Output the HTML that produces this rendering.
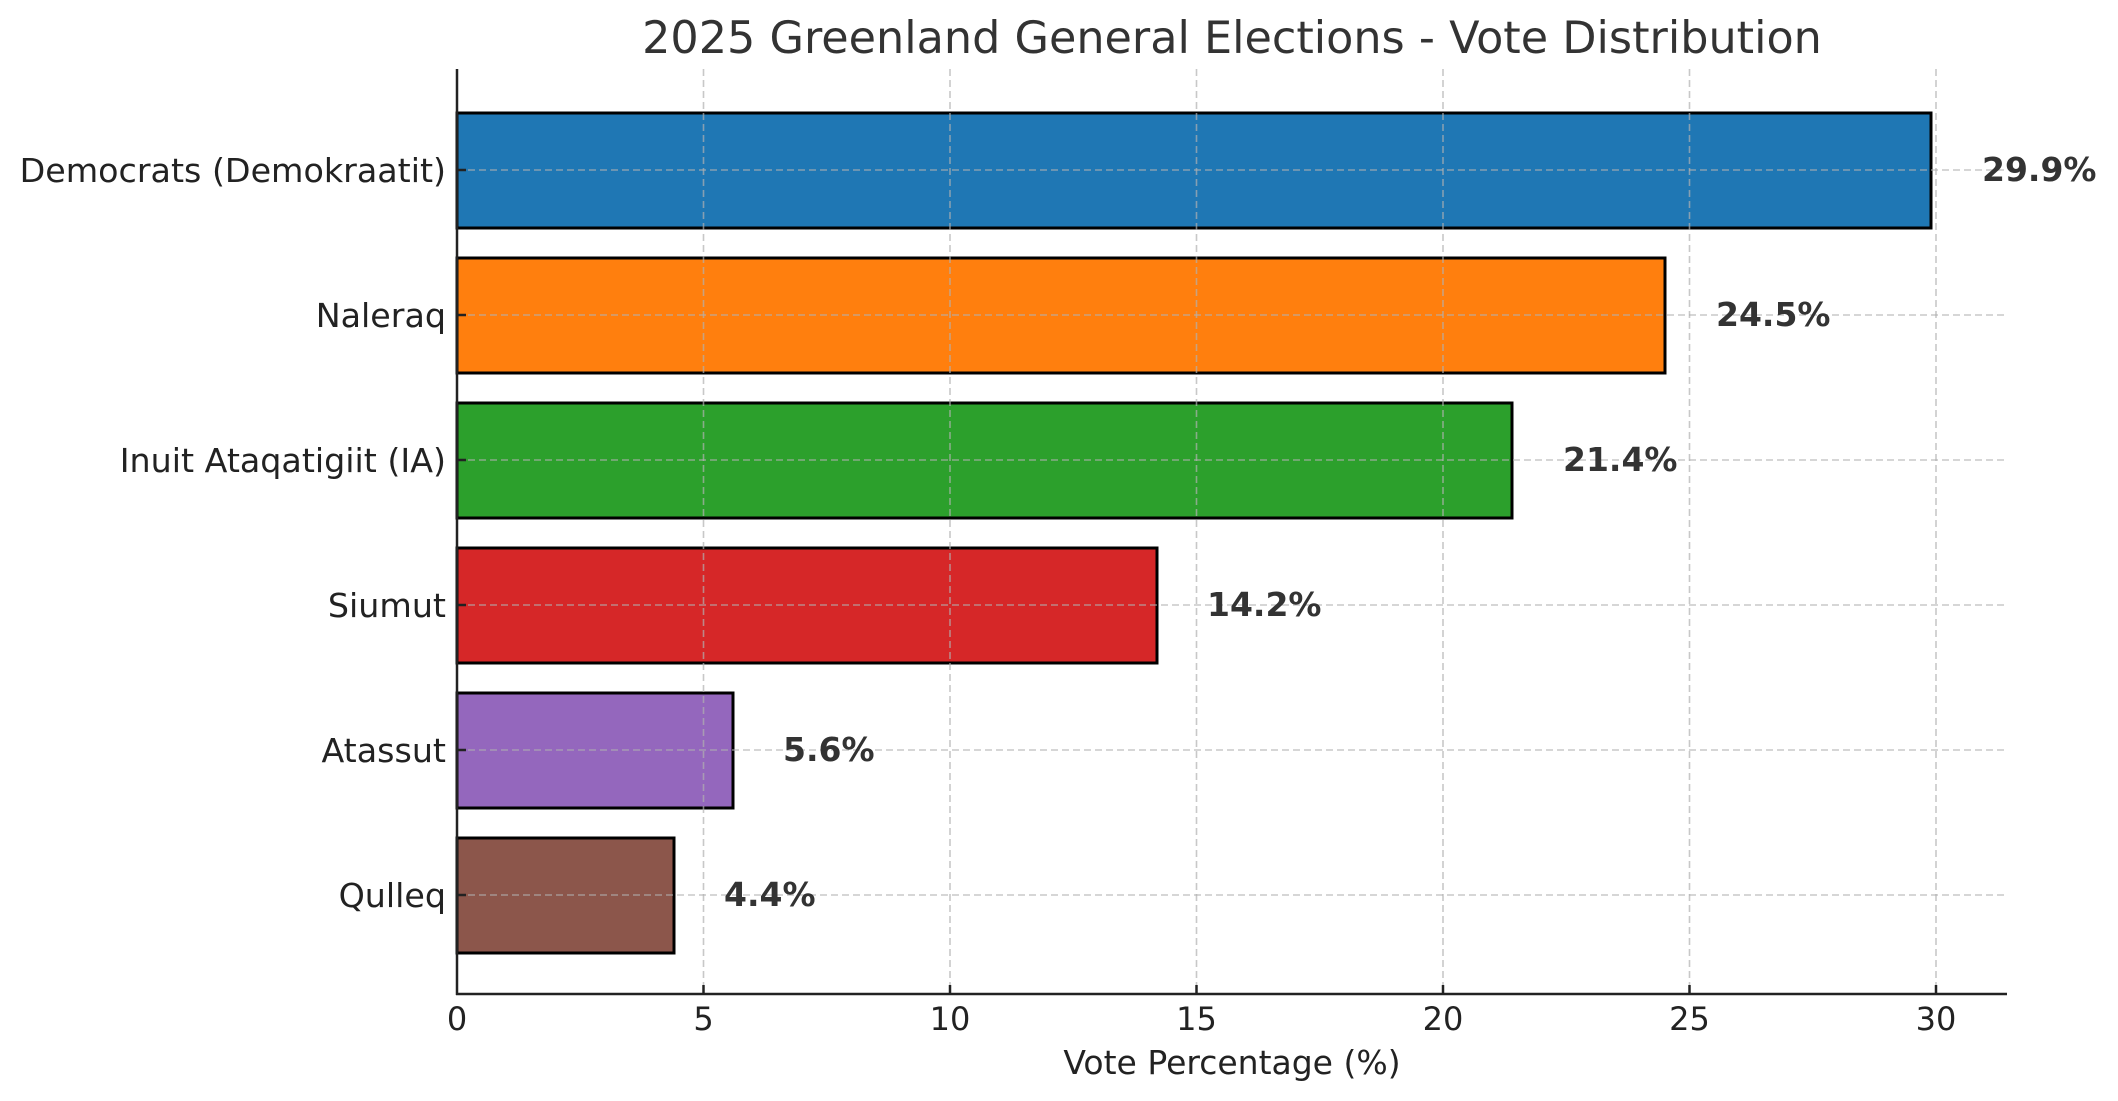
<!DOCTYPE html>
<html><head><meta charset="utf-8"><style>html,body{margin:0;padding:0;background:#fff}svg{display:block}</style></head>
<body>
<svg width="2118" height="1101" xmlns="http://www.w3.org/2000/svg" font-family="DejaVu Sans, Liberation Sans, sans-serif">
<rect width="2118" height="1101" fill="#fff"/>
<g stroke="#000" stroke-width="3">
<rect x="457" y="113" width="1474" height="115" fill="#1f77b4"/>
<rect x="457" y="258" width="1208" height="115" fill="#ff7f0e"/>
<rect x="457" y="403" width="1055" height="115" fill="#2ca02c"/>
<rect x="457" y="548" width="700" height="115" fill="#d62728"/>
<rect x="457" y="693" width="276" height="115" fill="#9467bd"/>
<rect x="457" y="838" width="217" height="115" fill="#8c564b"/>
</g>
<g stroke="#b0b0b0" stroke-opacity="0.7" stroke-width="1.6" stroke-dasharray="7,4">
<line x1="457" y1="69" x2="457" y2="994"/><line x1="703.5" y1="69" x2="703.5" y2="994"/>
<line x1="950" y1="69" x2="950" y2="994"/><line x1="1196.5" y1="69" x2="1196.5" y2="994"/>
<line x1="1443" y1="69" x2="1443" y2="994"/><line x1="1689.5" y1="69" x2="1689.5" y2="994"/>
<line x1="1936" y1="69" x2="1936" y2="994"/>
<line x1="457" y1="170" x2="2007" y2="170"/><line x1="457" y1="315" x2="2007" y2="315"/>
<line x1="457" y1="460" x2="2007" y2="460"/><line x1="457" y1="605" x2="2007" y2="605"/>
<line x1="457" y1="750" x2="2007" y2="750"/><line x1="457" y1="895" x2="2007" y2="895"/>
</g>
<g stroke="#222" stroke-width="2.5">
<line x1="457" y1="69" x2="457" y2="995"/><line x1="456" y1="994" x2="2007" y2="994"/>
<line x1="703.5" y1="994" x2="703.5" y2="985"/><line x1="950" y1="994" x2="950" y2="985"/>
<line x1="1196.5" y1="994" x2="1196.5" y2="985"/><line x1="1443" y1="994" x2="1443" y2="985"/>
<line x1="1689.5" y1="994" x2="1689.5" y2="985"/><line x1="1936" y1="994" x2="1936" y2="985"/>
<line x1="457" y1="170" x2="466" y2="170"/><line x1="457" y1="315" x2="466" y2="315"/>
<line x1="457" y1="460" x2="466" y2="460"/><line x1="457" y1="605" x2="466" y2="605"/>
<line x1="457" y1="750" x2="466" y2="750"/><line x1="457" y1="895" x2="466" y2="895"/>
</g>
<text x="1232" y="53" font-size="44.5" fill="#333" text-anchor="middle">2025 Greenland General Elections - Vote Distribution</text>
<g font-size="33.3" fill="#222" text-anchor="end">
<text x="446" y="182">Democrats (Demokraatit)</text>
<text x="446" y="327">Naleraq</text>
<text x="446" y="472">Inuit Ataqatigiit (IA)</text>
<text x="446" y="617">Siumut</text>
<text x="446" y="762">Atassut</text>
<text x="446" y="907">Qulleq</text>
</g>
<g font-size="32" fill="#222" text-anchor="middle">
<text x="457" y="1030">0</text><text x="703.5" y="1030">5</text><text x="950" y="1030">10</text>
<text x="1196.5" y="1030">15</text><text x="1443" y="1030">20</text><text x="1689.5" y="1030">25</text>
<text x="1936" y="1030">30</text>
<text x="1232" y="1074" font-size="33">Vote Percentage (%)</text>
</g>
<g font-size="33" font-weight="bold" fill="#333">
<text x="1982" y="181">29.9%</text>
<text x="1716" y="326">24.5%</text>
<text x="1563" y="471">21.4%</text>
<text x="1207" y="616">14.2%</text>
<text x="783" y="761">5.6%</text>
<text x="724" y="906">4.4%</text>
</g>
</svg>
</body></html>
